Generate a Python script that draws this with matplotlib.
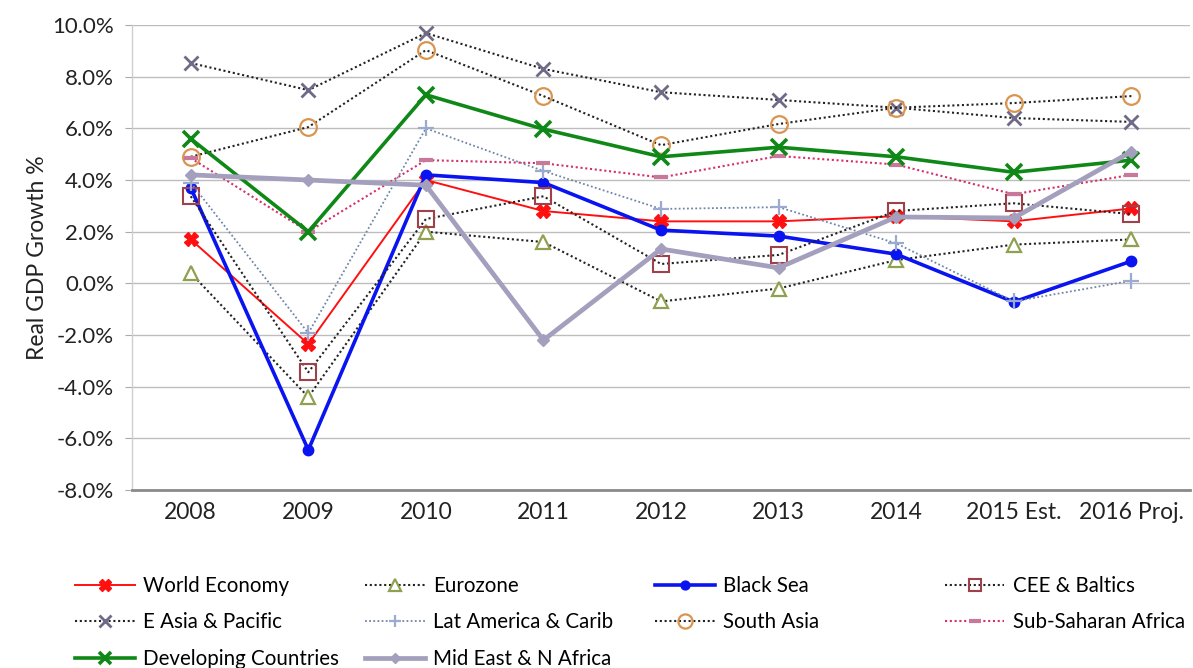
import matplotlib
matplotlib.use("Agg")
import matplotlib.pyplot as plt
from matplotlib.ticker import FuncFormatter, MultipleLocator

plt.rcParams['font.family'] = ['Lato', 'DejaVu Sans']

years = ["2008", "2009", "2010", "2011", "2012", "2013", "2014", "2015 Est.", "2016 Proj."]

world_economy = [1.7, -2.35, 4.0, 2.8, 2.4, 2.4, 2.6, 2.4, 2.9]
eurozone = [0.4, -4.4, 2.0, 1.6, -0.7, -0.2, 0.9, 1.5, 1.7]
black_sea = [3.7, -6.45, 4.2, 3.9, 2.06, 1.83, 1.13, -0.72, 0.86]
cee_baltics = [3.37, -3.44, 2.49, 3.37, 0.75, 1.1, 2.8, 3.1, 2.68]
e_asia_pacific = [8.53, 7.48, 9.69, 8.3, 7.4, 7.1, 6.8, 6.4, 6.25]
lat_america = [3.9, -1.93, 6.0, 4.35, 2.88, 2.95, 1.55, -0.7, 0.1]
south_asia = [4.9, 6.05, 9.03, 7.25, 5.35, 6.17, 6.8, 6.98, 7.25]
sub_saharan = [4.85, 2.0, 4.77, 4.65, 4.1, 4.93, 4.6, 3.45, 4.2]
developing = [5.6, 2.0, 7.3, 5.97, 4.9, 5.27, 4.9, 4.3, 4.77]
mid_east = [4.2, 4.0, 3.8, -2.2, 1.33, 0.6, 2.57, 2.53, 5.1]

fig = plt.figure(figsize=(11.93, 6.68), dpi=100)
ax = fig.add_axes([0.1106, 0.2665, 0.887, 0.696])
x = list(range(len(years)))

dot = (0, (1, 1.3))
h = {}
h['World Economy'], = ax.plot(x, world_economy, color='#FF1010', lw=1.4, marker='X',
                              ms=10, mfc='#FF1010', mec='#FF1010', label='World Economy')
h['Eurozone'], = ax.plot(x, eurozone, color='#222222', lw=1.5, ls=dot, marker='^',
                         ms=10, mfc='white', mec='#8FA050', mew=1.6, label='Eurozone')
h['Black Sea'], = ax.plot(x, black_sea, color='#0A14F0', lw=2.6, marker='o',
                          ms=7.5, mfc='#0A14F0', mec='#0A14F0', label='Black Sea')
h['CEE & Baltics'], = ax.plot(x, cee_baltics, color='#222222', lw=1.5, ls=dot, marker='s',
                              ms=11, mfc='none', mec='#A04048', mew=1.5, label='CEE & Baltics')
h['E Asia & Pacific'], = ax.plot(x, e_asia_pacific, color='#222222', lw=1.5, ls=dot, marker='x',
                                 ms=10, mec='#6E6A88', mew=2.0, label='E Asia & Pacific')
h['Lat America & Carib'], = ax.plot(x, lat_america, color='#6F86A8', lw=1.3, ls=dot, marker='+',
                                    ms=11, mec='#9AAAD0', mew=1.6, label='Lat America & Carib')
h['South Asia'], = ax.plot(x, south_asia, color='#222222', lw=1.5, ls=dot, marker='o',
                           ms=12, mfc='none', mec='#DA9450', mew=1.6, label='South Asia')
h['Sub-Saharan Africa'], = ax.plot(x, sub_saharan, color='#D4306A', lw=1.5, ls=dot, marker='_',
                                   ms=10, mec='#C87898', mew=3.0, label='Sub-Saharan Africa')
h['Developing Countries'], = ax.plot(x, developing, color='#108818', lw=2.6, marker='x',
                                     ms=11, mec='#108818', mew=2.6, label='Developing Countries')
h['Mid East & N Africa'], = ax.plot(x, mid_east, color='#A39FBC', lw=3.4, marker='D',
                                    ms=6, mfc='#A39FBC', mec='#A39FBC', label='Mid East & N Africa')

ax.set_xlim(-0.5, 8.5)
ax.set_ylim(-8, 10)
ax.yaxis.set_major_locator(MultipleLocator(2))
ax.yaxis.set_major_formatter(FuncFormatter(lambda v, p: f"{v:.1f}%"))
ax.set_xticks(x)
ax.set_xticklabels(years)
ax.grid(axis='y', color='#BDBDBD', lw=1.0)
ax.set_axisbelow(True)
for s in ['top', 'right']:
    ax.spines[s].set_visible(False)
ax.spines['left'].set_color('#CFCFCF')
ax.spines['left'].set_linewidth(1.0)
ax.spines['bottom'].set_color('#8A8A8A')
ax.spines['bottom'].set_linewidth(2.0)
ax.tick_params(axis='y', length=5, color='#AAAAAA', labelsize=16, labelcolor='#222222', pad=8)
ax.tick_params(axis='x', length=0, labelsize=16.5, labelcolor='#222222', pad=9)
ax.set_ylabel("Real GDP Growth %", fontsize=16.5, color='#222222', labelpad=3)

columns = [
    (['World Economy', 'E Asia & Pacific', 'Developing Countries'], 0.063),
    (['Eurozone', 'Lat America & Carib', 'Mid East & N Africa'], 0.306),
    (['Black Sea', 'South Asia'], 0.549),
    (['CEE & Baltics', 'Sub-Saharan Africa'], 0.792),
]
for names, xpos in columns:
    fig.legend([h[n] for n in names], names, loc='upper left', bbox_to_anchor=(xpos, 0.138),
               frameon=False, fontsize=14.8, handlelength=2.9, handletextpad=0.4,
               labelspacing=0.8, borderaxespad=0, borderpad=0, numpoints=1, markerscale=0.85)

fig.savefig("out.png", dpi=100, facecolor='white')
